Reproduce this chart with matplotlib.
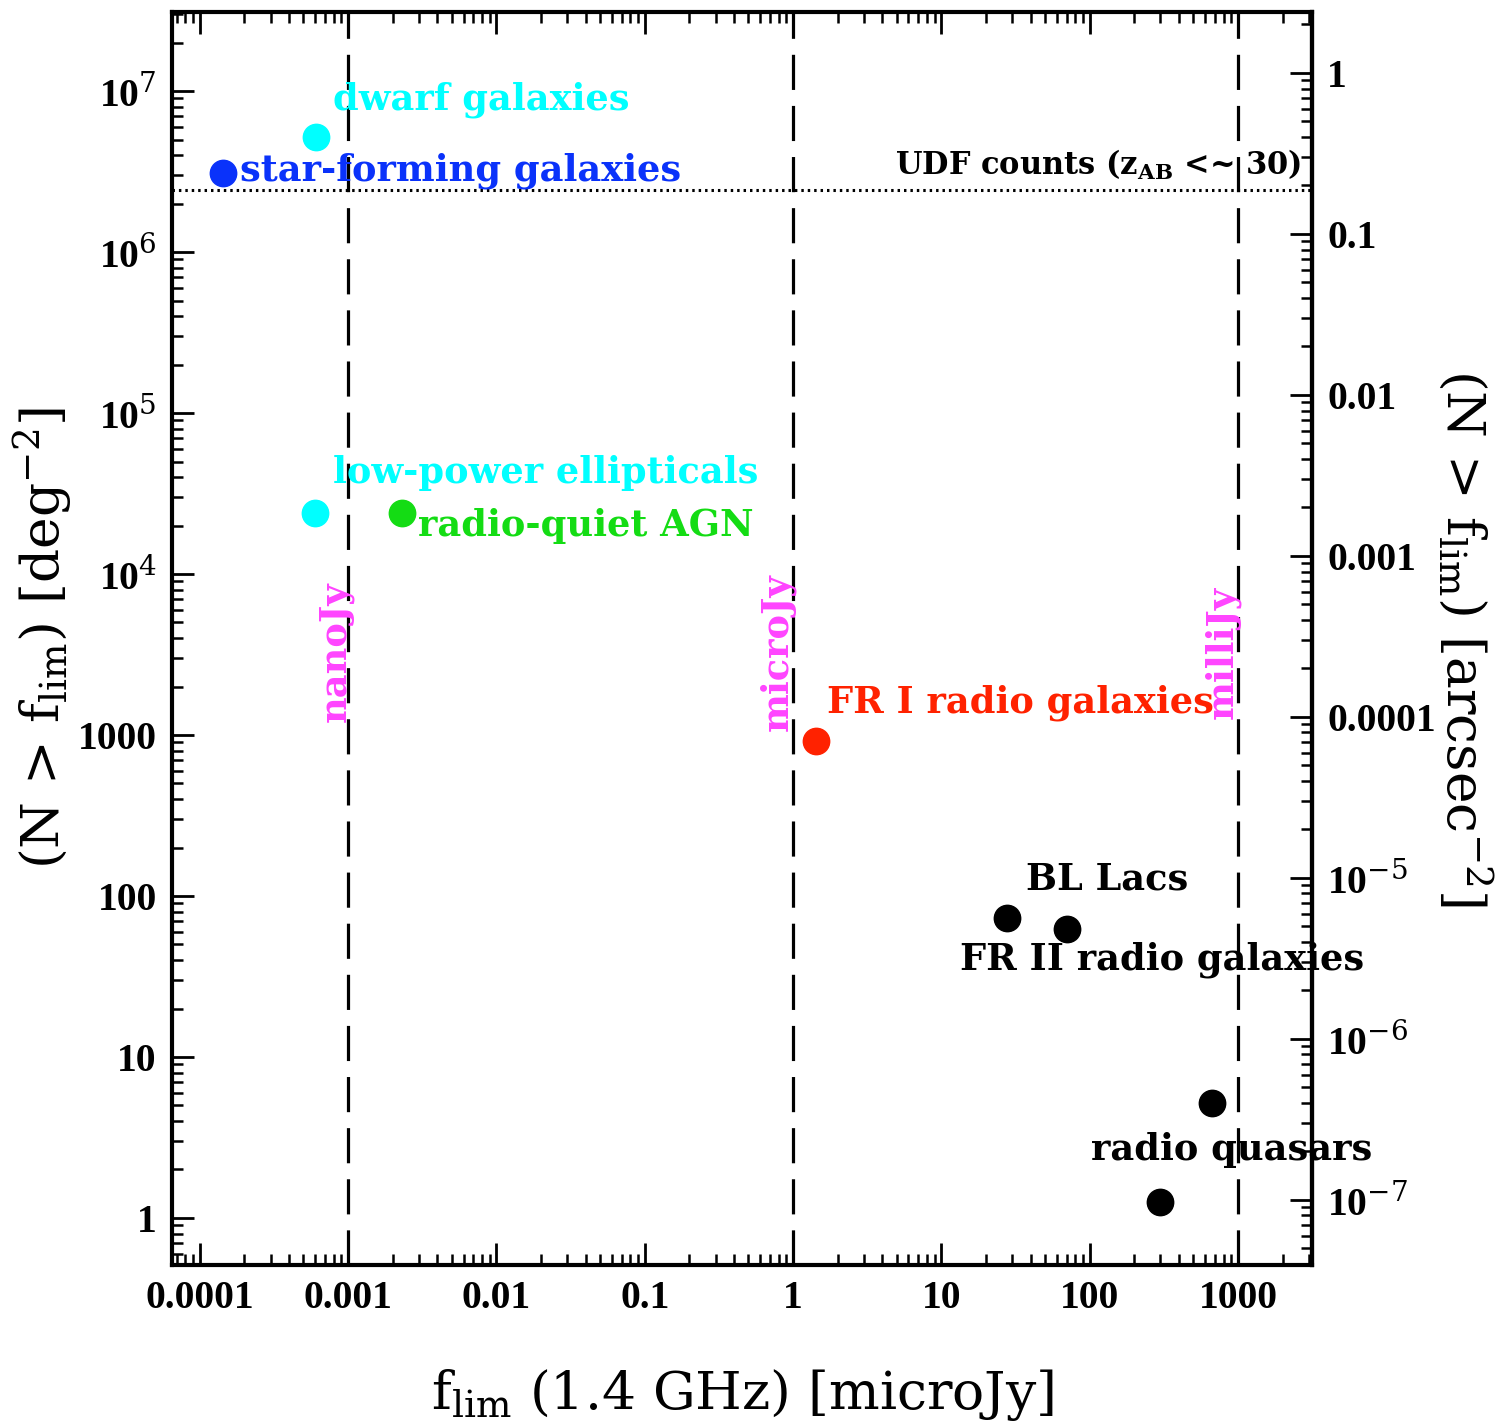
import matplotlib
matplotlib.use("Agg")
import matplotlib.pyplot as plt
from matplotlib.ticker import FixedLocator, FixedFormatter, LogLocator, NullFormatter

# Source populations: limiting flux (microJy) and surface density N(>f_lim) [deg^-2]
pop_names = ["star-forming galaxies", "dwarf galaxies", "low-power ellipticals",
             "radio-quiet AGN", "FR I radio galaxies", "BL Lacs",
             "FR II radio galaxies", "radio quasars", "radio quasars"]
pop_flux = [1.43e-4, 6.1e-4, 6.0e-4, 2.3e-3, 1.43, 27.9, 70.0, 667.0, 297.0]
pop_density = [3.1e6, 5.2e6, 2.4e4, 2.4e4, 918.0, 73.0, 62.0, 5.2, 1.26]
pop_colors = ["#0a32fa", "#00ffff", "#00ffff", "#14dc14", "#ff2200",
              "black", "black", "black", "black"]

# Label anchors (left edge, vertical centre)
label_text = ["dwarf galaxies", "star-forming galaxies", "low-power ellipticals",
              "radio-quiet AGN", "FR I radio galaxies", "BL Lacs",
              "FR II radio galaxies", "radio quasars"]
label_x = [7.9e-4, 1.86e-4, 7.9e-4, 2.97e-3, 1.70, 37.0, 13.4, 101.6]
label_y = [8.8e6, 3.2e6, 4.24e4, 1.99e4, 1580.0, 126.0, 40.0, 2.64]
label_colors = ["#00ffff", "#0a32fa", "#00ffff", "#14dc14", "#ff2200",
                "black", "black", "black"]

# Flux regimes
regime_flux = [1e-3, 1.0, 1e3]
regime_names = ["nanoJy", "microJy", "milliJy"]
regime_label_x = [8.3e-4, 0.79, 792.0]
regime_label_y = 3280.0

# Hubble UDF galaxy counts
udf_density = 2.43e6

# Axis ticks
x_ticks = [1e-4, 1e-3, 1e-2, 1e-1, 1, 10, 100, 1000]
x_tick_labels = ["0.0001", "0.001", "0.01", "0.1", "1", "10", "100", "1000"]
y_ticks = [1, 10, 100, 1000, 1e4, 1e5, 1e6, 1e7]
y_tick_labels = ["1", "10", "100", "1000", r"10$^4$", r"10$^5$", r"10$^6$", r"10$^7$"]
y2_ticks = [1, 0.1, 0.01, 1e-3, 1e-4, 1e-5, 1e-6, 1e-7]
y2_tick_labels = ["1", "0.1", "0.01", "0.001", "0.0001",
                  r"10$^{-5}$", r"10$^{-6}$", r"10$^{-7}$"]

DEG2_TO_ARCSEC2 = 3600.0 ** 2

plt.rcParams["mathtext.fontset"] = "dejavuserif"

fig = plt.figure(figsize=(14.99, 14.27), dpi=100)
ax = fig.add_axes([0.1148, 0.1135, 0.7605, 0.8781])
ax.set_xscale("log")
ax.set_yscale("log")
ax.set_xlim(6.5e-5, 3160)
ax.set_ylim(0.51, 3.1e7)

for f in regime_flux:
    ln = ax.axvline(f, color="black", lw=2.3, zorder=1)
    ln.set_dashes((11, 5))

ax.axhline(udf_density, color="black", lw=2.2, ls=(0, (0.8, 1.3)), zorder=1)

for xv, yv, c in zip(pop_flux, pop_density, pop_colors):
    ax.plot([xv], [yv], "o", ms=19, color=c, mec=c, zorder=3)

annot_font = dict(family="DejaVu Serif", weight="bold", fontsize=26.5)
for t, xv, yv, c in zip(label_text, label_x, label_y, label_colors):
    ax.text(xv, yv, t, color=c, ha="left", va="center", zorder=4, **annot_font)

for xv, t in zip(regime_label_x, regime_names):
    ax.text(xv, regime_label_y, t, color="#ff44ff", rotation=90,
            ha="center", va="center", zorder=4, **annot_font)

ax.text(2667, 3.47e6, r"UDF counts (z$_{\mathbf{AB}}$ <~ 30)", color="black",
        ha="right", va="center", family="DejaVu Serif", weight="bold",
        fontsize=22, zorder=4)

TICK_SIZE = 28.5

ax.xaxis.set_major_locator(FixedLocator(x_ticks))
ax.xaxis.set_major_formatter(FixedFormatter(x_tick_labels))
ax.xaxis.set_minor_locator(LogLocator(base=10, subs=range(2, 10), numticks=30))
ax.xaxis.set_minor_formatter(NullFormatter())
ax.yaxis.set_major_locator(FixedLocator(y_ticks))
ax.yaxis.set_major_formatter(FixedFormatter(y_tick_labels))
ax.yaxis.set_minor_locator(LogLocator(base=10, subs=range(2, 10), numticks=30))
ax.yaxis.set_minor_formatter(NullFormatter())

ax.tick_params(axis="x", which="both", direction="in", top=True, bottom=True)
ax.tick_params(axis="y", which="both", direction="in", left=True, right=False)
ax.tick_params(which="major", length=16, width=2)
ax.tick_params(which="minor", length=8, width=1.8)
ax.tick_params(axis="x", which="major", pad=11)
ax.tick_params(axis="y", which="major", pad=11)
for lab in ax.get_xticklabels() + ax.get_yticklabels():
    lab.set_fontfamily("Liberation Serif")
    lab.set_fontweight("bold")
    lab.set_fontsize(TICK_SIZE)

for sp in ax.spines.values():
    sp.set_linewidth(3)

# Right-hand scale in arcsec^-2
ax2 = ax.secondary_yaxis("right", functions=(lambda n: n / DEG2_TO_ARCSEC2,
                                             lambda a: a * DEG2_TO_ARCSEC2))
ax2.yaxis.set_major_locator(FixedLocator(y2_ticks))
ax2.yaxis.set_major_formatter(FixedFormatter(y2_tick_labels))
ax2.yaxis.set_minor_locator(LogLocator(base=10, subs=range(2, 10), numticks=30))
ax2.yaxis.set_minor_formatter(NullFormatter())
ax2.tick_params(which="both", direction="in")
ax2.tick_params(which="major", length=16, width=2, pad=11)
ax2.tick_params(which="minor", length=8, width=1.8)
ax2.spines["right"].set_linewidth(3)
for lab in ax2.get_yticklabels():
    lab.set_fontfamily("Liberation Serif")
    lab.set_fontweight("bold")
    lab.set_fontsize(TICK_SIZE)

label_font = dict(family="DejaVu Serif", fontsize=38.5)
ax.set_xlabel(r"f$_{\rm lim}$ (1.4 GHz) [microJy]", labelpad=36, **label_font)
ax.set_ylabel(r"(N > f$_{\rm lim}$) [deg$^{-2}$]", labelpad=3, **label_font)
ax2.set_ylabel(r"(N > f$_{\rm lim}$) [arcsec$^{-2}$]", rotation=-90,
               labelpad=42, **label_font)

fig.savefig("out.png", dpi=100)
